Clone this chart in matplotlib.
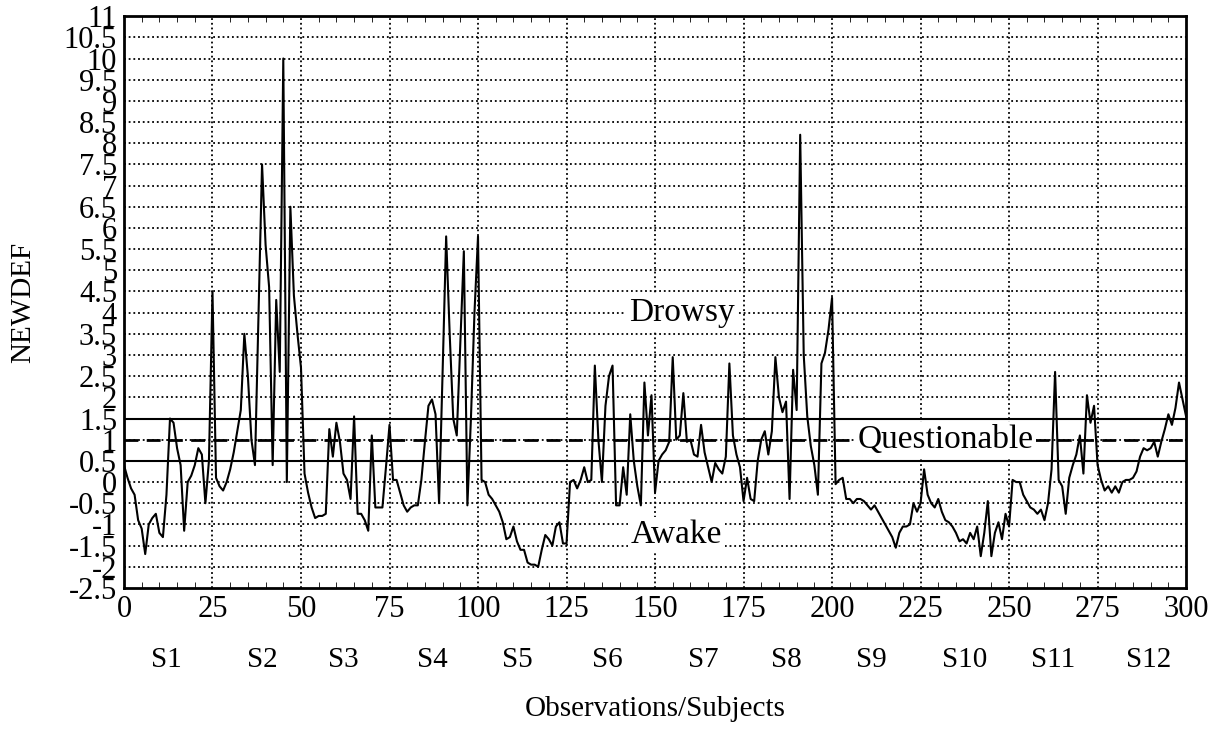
import numpy as np
import matplotlib.pyplot as plt
from matplotlib.ticker import MultipleLocator
import matplotlib.transforms as mtransforms

plt.rcParams['font.family'] = ['Liberation Serif', 'DejaVu Serif']

# NEWDEF value for each observation (0..300)
newdef = [
    0.4, 0.1, -0.15, -0.3, -0.9, -1.1, -1.7, -1.0, -0.85, -0.75,
    -1.2, -1.3, -0.3, 1.5, 1.4, 0.8, 0.4, -1.15, 0.0, 0.15,
    0.4, 0.8, 0.65, -0.5, 0.5, 4.5, 0.1, -0.1, -0.2, 0.0,
    0.3, 0.7, 1.2, 1.7, 3.5, 2.5, 1.0, 0.4, 4.0, 7.5,
    5.6, 4.6, 0.4, 4.3, 2.6, 10.0, 0.0, 6.5, 4.4, 3.5,
    2.7, 0.2, -0.25, -0.6, -0.85, -0.8, -0.8, -0.75, 1.25, 0.6,
    1.4, 0.95, 0.2, 0.05, -0.4, 1.55, -0.75, -0.75, -0.9, -1.15,
    1.1, -0.6, -0.6, -0.6, 0.35, 1.35, 0.05, 0.05, -0.25, -0.55,
    -0.7, -0.6, -0.55, -0.55, 0.05, 0.95, 1.8, 1.95, 1.6, -0.5,
    2.6, 5.8, 3.5, 1.5, 1.1, 3.3, 5.45, -0.55, 1.5, 4.0,
    5.8, 0.05, 0.0, -0.3, -0.4, -0.55, -0.7, -0.95, -1.35, -1.3,
    -1.05, -1.4, -1.6, -1.6, -1.9, -1.95, -1.95, -2.0, -1.6, -1.25,
    -1.35, -1.5, -1.05, -0.95, -1.45, -1.45, 0.0, 0.05, -0.15, 0.05,
    0.35, 0.0, 0.05, 2.75, 1.0, 0.0, 1.8, 2.5, 2.75, -0.55,
    -0.55, 0.35, -0.3, 1.6, 0.5, -0.1, -0.55, 2.35, 1.1, 2.05,
    -0.25, 0.5, 0.65, 0.75, 0.95, 2.95, 1.0, 1.1, 2.1, 0.95,
    1.0, 0.65, 0.6, 1.35, 0.7, 0.35, 0.0, 0.45, 0.3, 0.2,
    0.6, 2.8, 1.1, 0.65, 0.35, -0.45, 0.1, -0.4, -0.45, 0.5,
    1.0, 1.2, 0.65, 1.2, 2.95, 2.0, 1.65, 1.9, -0.4, 2.65,
    1.7, 8.2, 3.0, 1.55, 0.85, 0.4, -0.3, 2.8, 3.05, 3.6,
    4.35, -0.05, 0.05, 0.1, -0.4, -0.4, -0.5, -0.4, -0.4, -0.45,
    -0.55, -0.65, -0.55, -0.7, -0.85, -1.0, -1.15, -1.3, -1.55, -1.2,
    -1.05, -1.05, -1.0, -0.5, -0.7, -0.5, 0.3, -0.3, -0.5, -0.6,
    -0.4, -0.7, -0.9, -0.95, -1.05, -1.2, -1.4, -1.35, -1.45, -1.2,
    -1.35, -1.05, -1.75, -1.2, -0.45, -1.75, -1.2, -0.95, -1.35, -0.75,
    -1.05, 0.05, 0.0, 0.0, -0.3, -0.45, -0.6, -0.65, -0.75, -0.65,
    -0.9, -0.5, 0.3, 2.6, 0.05, -0.1, -0.75, 0.1, 0.4, 0.65,
    1.1, 0.2, 2.05, 1.4, 1.8, 0.4, 0.05, -0.2, -0.1, -0.25,
    -0.1, -0.25, 0.0, 0.05, 0.05, 0.1, 0.25, 0.6, 0.8, 0.75,
    0.8, 0.95, 0.6, 0.95, 1.25, 1.6, 1.35, 1.75, 2.35, 1.95,
    1.55,
]
observations = np.arange(len(newdef))

# Subject labels and where they sit along the x axis
subjects = ['S1', 'S2', 'S3', 'S4', 'S5', 'S6', 'S7', 'S8', 'S9', 'S10', 'S11', 'S12']
subject_pos = [12, 39, 62, 87, 111, 136.5, 163.5, 187, 211, 237.5, 262.5, 289.5]

# Threshold lines: awake / questionable / drowsy
lower_limit = 0.5
mid_limit = 1.0
upper_limit = 1.5

x_ticks = np.arange(0, 301, 25)
y_ticks = np.arange(-2.5, 11.01, 0.5)
y_labels = ['%g' % v for v in y_ticks]

fig = plt.figure(figsize=(12.19, 7.34), dpi=100)
ax = fig.add_axes([0.1017, 0.199, 0.8713, 0.779])

# Dotted grid
for y in y_ticks[1:-1]:
    ax.axhline(y, color='black', lw=1.3, linestyle=(0, (1, 1.6)), zorder=1)
for x in x_ticks[1:-1]:
    ax.axvline(x, color='black', lw=1.3, linestyle=(0, (1, 1.6)), zorder=1)

# Threshold lines
ax.axhline(upper_limit, color='black', lw=1.5, zorder=2)
ax.axhline(lower_limit, color='black', lw=1.5, zorder=2)
ax.axhline(mid_limit, color='black', lw=2.0, linestyle=(0, (5, 3)), zorder=2)

# The series
ax.plot(observations, newdef, color='black', lw=1.5, zorder=3)

ax.set_xlim(0, 300)
ax.set_ylim(-2.5, 11)
ax.set_xticks(x_ticks)
ax.set_yticks(y_ticks)
ax.set_yticklabels(y_labels)
ax.xaxis.set_minor_locator(MultipleLocator(5))
ax.tick_params(axis='both', which='major', labelsize=22, length=0)
ax.tick_params(axis='x', which='major', pad=5)
ax.tick_params(axis='y', which='major', pad=5)
ax.tick_params(axis='x', which='minor', direction='in', length=4, top=True, bottom=True)
for spine in ax.spines.values():
    spine.set_linewidth(2)

ax.set_ylabel('NEWDEF', fontsize=21, labelpad=20)
ax.set_xlabel('Observations/Subjects', fontsize=21, labelpad=52)

# Region labels on white boxes
box = dict(facecolor='white', edgecolor='none', pad=2)
ax.text(157.5, 4.0, 'Drowsy', fontsize=24, ha='center', va='center', bbox=box, zorder=4)
ax.text(232, 1.0, 'Questionable', fontsize=24, ha='center', va='center', bbox=box, zorder=4)
ax.text(156, -1.25, 'Awake', fontsize=24, ha='center', va='center', bbox=box, zorder=4)

# Subject names under the tick labels
trans = mtransforms.blended_transform_factory(ax.transData, fig.transFigure)
for pos, name in zip(subject_pos, subjects):
    ax.text(pos, 0.101, name, fontsize=21, ha='center', va='center', transform=trans)

fig.savefig('out.png', dpi=100)
